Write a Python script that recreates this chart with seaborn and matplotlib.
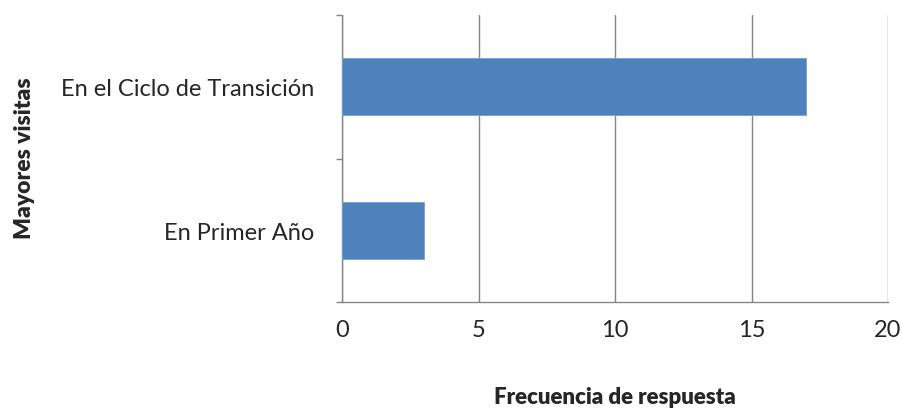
import matplotlib
matplotlib.use("Agg")
import matplotlib.pyplot as plt
import seaborn as sns
import pandas as pd

categorias = ["En el Ciclo de Transición", "En Primer Año"]
valores = [17, 3]
xticks = [0, 5, 10, 15, 20]

sns.set_style("white")
plt.rcParams['font.family'] = ['Lato', 'DejaVu Sans']

df = pd.DataFrame({'categoria': categorias, 'frecuencia': valores})

fig = plt.figure(figsize=(9.02, 4.10), dpi=100)
ax = fig.add_axes([342 / 902, 107 / 410, 546 / 902, 287 / 410])

sns.barplot(data=df, x='frecuencia', y='categoria', orient='h', color='#4F81BD',
            saturation=1, width=0.4, ax=ax, zorder=3, edgecolor='#7A9FD0', linewidth=0.6)

grid_c = '#868686'
ax.set_xlim(0, 20)
ax.set_ylim(1.5, -0.5)
ax.set_xticks(xticks)
ax.set_xticklabels([str(t) for t in xticks], fontsize=17)
ax.set_yticks(range(len(categorias)))
ax.set_yticklabels(categorias, fontsize=17)
ax.set_yticks([-0.5, 0.5, 1.5], minor=True)

ax.xaxis.grid(True, color=grid_c, linewidth=1)
ax.set_axisbelow(True)
for s in ['top', 'right']:
    ax.spines[s].set_visible(False)
for s in ['left', 'bottom']:
    ax.spines[s].set_color(grid_c)
    ax.spines[s].set_linewidth(1)

ax.tick_params(axis='x', which='major', direction='out', length=4.5, width=1, color=grid_c, pad=8)
ax.tick_params(axis='y', which='major', length=0, pad=20)
ax.tick_params(axis='y', which='minor', direction='out', length=4.5, width=1, color=grid_c, left=True)

ax.set_xlabel('Frecuencia de respuesta', fontsize=16, fontweight='heavy', labelpad=33)
ax.set_ylabel('')
fig.text(25 / 902, 1 - 158 / 410, 'Mayores visitas', rotation=90, fontsize=16.5,
         fontweight='heavy', ha='center', va='center')

fig.savefig('out.png', dpi=100)
